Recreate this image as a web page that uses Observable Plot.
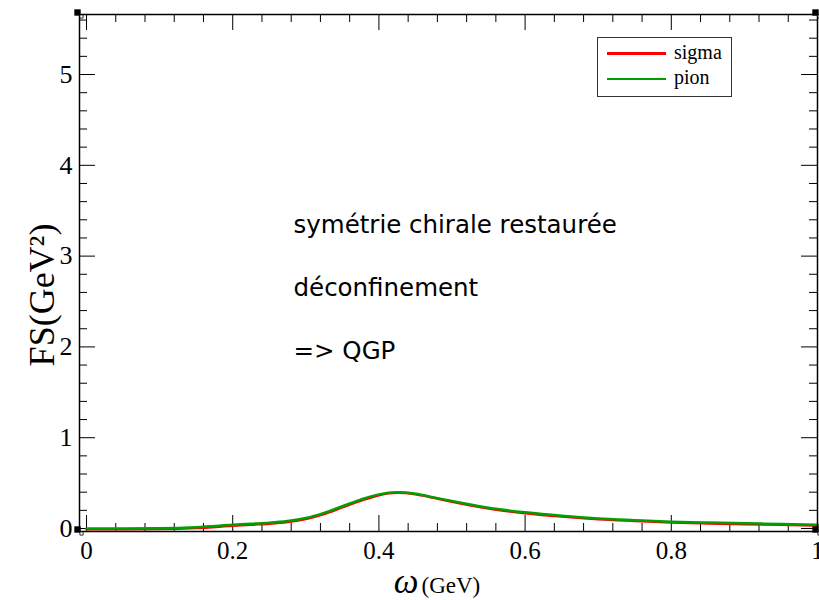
<!DOCTYPE html>
<html>
<head>
<meta charset="utf-8">
<script src="https://cdn.jsdelivr.net/npm/d3@7"></script>
<script src="https://cdn.jsdelivr.net/npm/@observablehq/plot@0.6"></script>
<style>
  body { margin: 0; background: white; }
  #wrap { position: relative; width: 819px; height: 600px; }
  #legend { position: absolute; left: 597px; top: 37px; width: 135px; height: 60px; box-sizing: border-box; border: 1px solid #333; background: white; font-family: "Liberation Serif", serif; font-size: 20px; line-height: 20px; }
  #legend .sw { position: absolute; left: 9px; width: 59px; }
  #legend .lb { position: absolute; left: 76px; white-space: nowrap; color: black; }
</style>
</head>
<body>
<div id="wrap"></div>
<script>
// ---- data ----
const omega = [0, 0.05, 0.1, 0.15, 0.2, 0.225, 0.25, 0.275, 0.3, 0.325, 0.35, 0.375, 0.4, 0.425, 0.45, 0.475, 0.5, 0.55, 0.6, 0.65, 0.7, 0.75, 0.8, 0.85, 0.9, 0.95, 1.0];
const sigmaFS = [-0.008, -0.008, -0.006, 0.005, 0.03, 0.042, 0.053, 0.071, 0.103, 0.158, 0.232, 0.305, 0.367, 0.393, 0.378, 0.338, 0.295, 0.22, 0.169, 0.131, 0.102, 0.083, 0.066, 0.056, 0.048, 0.041, 0.033];
const pionFS  = [0.0, 0.0, 0.003, 0.015, 0.04, 0.052, 0.063, 0.082, 0.115, 0.172, 0.245, 0.318, 0.376, 0.398, 0.382, 0.343, 0.302, 0.228, 0.178, 0.14, 0.111, 0.092, 0.075, 0.065, 0.057, 0.05, 0.041];
const seriesNames = ["sigma", "pion"];
const seriesColors = ["#ff0000", "#00a000"];
const xMajor = [0, 0.2, 0.4, 0.6, 0.8, 1];
const xTickLabels = ["0", "0.2", "0.4", "0.6", "0.8", "1"];
const xMinor = [0.04, 0.08, 0.12, 0.16, 0.24, 0.28, 0.32, 0.36, 0.44, 0.48, 0.52, 0.56, 0.64, 0.68, 0.72, 0.76, 0.84, 0.88, 0.92, 0.96];
const yMajor = [0, 1, 2, 3, 4, 5];
const yTickLabels = ["0", "1", "2", "3", "4", "5"];
const yMinor = [0.2, 0.4, 0.6, 0.8, 1.2, 1.4, 1.6, 1.8, 2.2, 2.4, 2.6, 2.8, 3.2, 3.4, 3.6, 3.8, 4.2, 4.4, 4.6, 4.8, 5.2, 5.4, 5.6];
const annotations = ["symétrie chirale restaurée", "déconfinement", "=> QGP"];
const xLabelSymbol = "ω";
const xLabelUnit = "(GeV)";
const yLabel = "FS(GeV²)";
const xDomain = [-0.0096, 1.0];
const yDomain = [-0.033, 5.661];

// ---- build ----
const sigmaData = omega.map((x, i) => ({x, y: sigmaFS[i]}));
const pionData = omega.map((x, i) => ({x, y: pionFS[i]}));
const corners = [[xDomain[0], yDomain[0]], [xDomain[0], yDomain[1]], [xDomain[1], yDomain[0]], [xDomain[1], yDomain[1]]];

const W = 819, H = 600;
const mT = 14, mR = 2, mB = 69, mL = 79;
const iW = W - mL - mR, iH = H - mT - mB;

const chart = Plot.plot({
  width: W, height: H,
  marginTop: mT, marginRight: mR, marginBottom: mB, marginLeft: mL,
  style: {fontFamily: "Liberation Serif", color: "black", background: "white"},
  x: {domain: xDomain},
  y: {domain: yDomain},
  marks: [
    // inward ticks
    Plot.tickX(xMajor, {x: d => d, insetTop: iH - 16, stroke: "black"}),
    Plot.tickX(xMajor, {x: d => d, insetBottom: iH - 16, stroke: "black"}),
    Plot.tickX(xMinor, {x: d => d, insetTop: iH - 8, stroke: "black"}),
    Plot.tickX(xMinor, {x: d => d, insetBottom: iH - 8, stroke: "black"}),
    Plot.tickY(yMajor, {y: d => d, insetRight: iW - 16, stroke: "black"}),
    Plot.tickY(yMajor, {y: d => d, insetLeft: iW - 16, stroke: "black"}),
    Plot.tickY(yMinor, {y: d => d, insetRight: iW - 8, stroke: "black"}),
    Plot.tickY(yMinor, {y: d => d, insetLeft: iW - 8, stroke: "black"}),
    Plot.axisX({ticks: xMajor, tickSize: 0, tickPadding: 10, fontSize: 25, label: null,
      tickFormat: d => xTickLabels[xMajor.indexOf(d)]}),
    Plot.axisY({ticks: yMajor, tickSize: 0, tickPadding: 7, fontSize: 26, label: null,
      tickFormat: d => yTickLabels[yMajor.indexOf(d)]}),
    // curves
    Plot.line(sigmaData, {x: "x", y: "y", stroke: seriesColors[0], strokeWidth: 2.5, curve: "monotone-x"}),
    Plot.line(pionData, {x: "x", y: "y", stroke: seriesColors[1], strokeWidth: 2.5, curve: "monotone-x"}),
    // annotations
    Plot.text([annotations[0]], {text: d => d, frameAnchor: "top-left", dx: 214, dy: 218, textAnchor: "start", lineAnchor: "bottom", fontFamily: "DejaVu Sans", fontSize: 24.5, fill: "black"}),
    Plot.text([annotations[1]], {text: d => d, frameAnchor: "top-left", dx: 214, dy: 281, textAnchor: "start", lineAnchor: "bottom", fontFamily: "DejaVu Sans", fontSize: 24.5, fill: "black"}),
    Plot.text([annotations[2]], {text: d => d, frameAnchor: "top-left", dx: 214, dy: 344, textAnchor: "start", lineAnchor: "bottom", fontFamily: "DejaVu Sans", fontSize: 24.5, fill: "black"}),
    // axis labels
    Plot.text([yLabel], {text: d => d, frameAnchor: "left", rotate: -90, dx: -26, dy: 22, textAnchor: "middle", lineAnchor: "bottom", fontSize: 36, fill: "black"}),
    Plot.text([xLabelSymbol], {text: d => d, frameAnchor: "bottom", dx: -30, dy: 61, textAnchor: "end", lineAnchor: "bottom", fontSize: 35, fontStyle: "italic", fill: "black"}),
    Plot.text([xLabelUnit], {text: d => d, frameAnchor: "bottom", dx: -27, dy: 61, textAnchor: "start", lineAnchor: "bottom", fontSize: 23, fill: "black"}),
    // frame and corner handles
    Plot.frame({stroke: "black", strokeWidth: 1.5}),
    Plot.dot(corners, {x: d => d[0], y: d => d[1], symbol: "square", r: 3.6, fill: "black", dx: -2, dy: -2}),
    Plot.dot(corners, {x: d => d[0], y: d => d[1], symbol: "square", r: 1.8, fill: "white", stroke: "black", strokeWidth: 0.8, dx: 2, dy: 2})
  ]
});

const wrap = document.getElementById("wrap");
wrap.appendChild(chart);

// legend
const legend = document.createElement("div");
legend.id = "legend";
const swTops = [14, 40], swH = [2.5, 2], lbTops = [4, 29];
seriesNames.forEach((name, i) => {
  const sw = document.createElement("div");
  sw.className = "sw";
  sw.style.top = swTops[i] + "px";
  sw.style.height = swH[i] + "px";
  sw.style.background = seriesColors[i];
  legend.appendChild(sw);
  const lb = document.createElement("div");
  lb.className = "lb";
  lb.style.top = lbTops[i] + "px";
  lb.textContent = name;
  legend.appendChild(lb);
});
wrap.appendChild(legend);
</script>
</body>
</html>
